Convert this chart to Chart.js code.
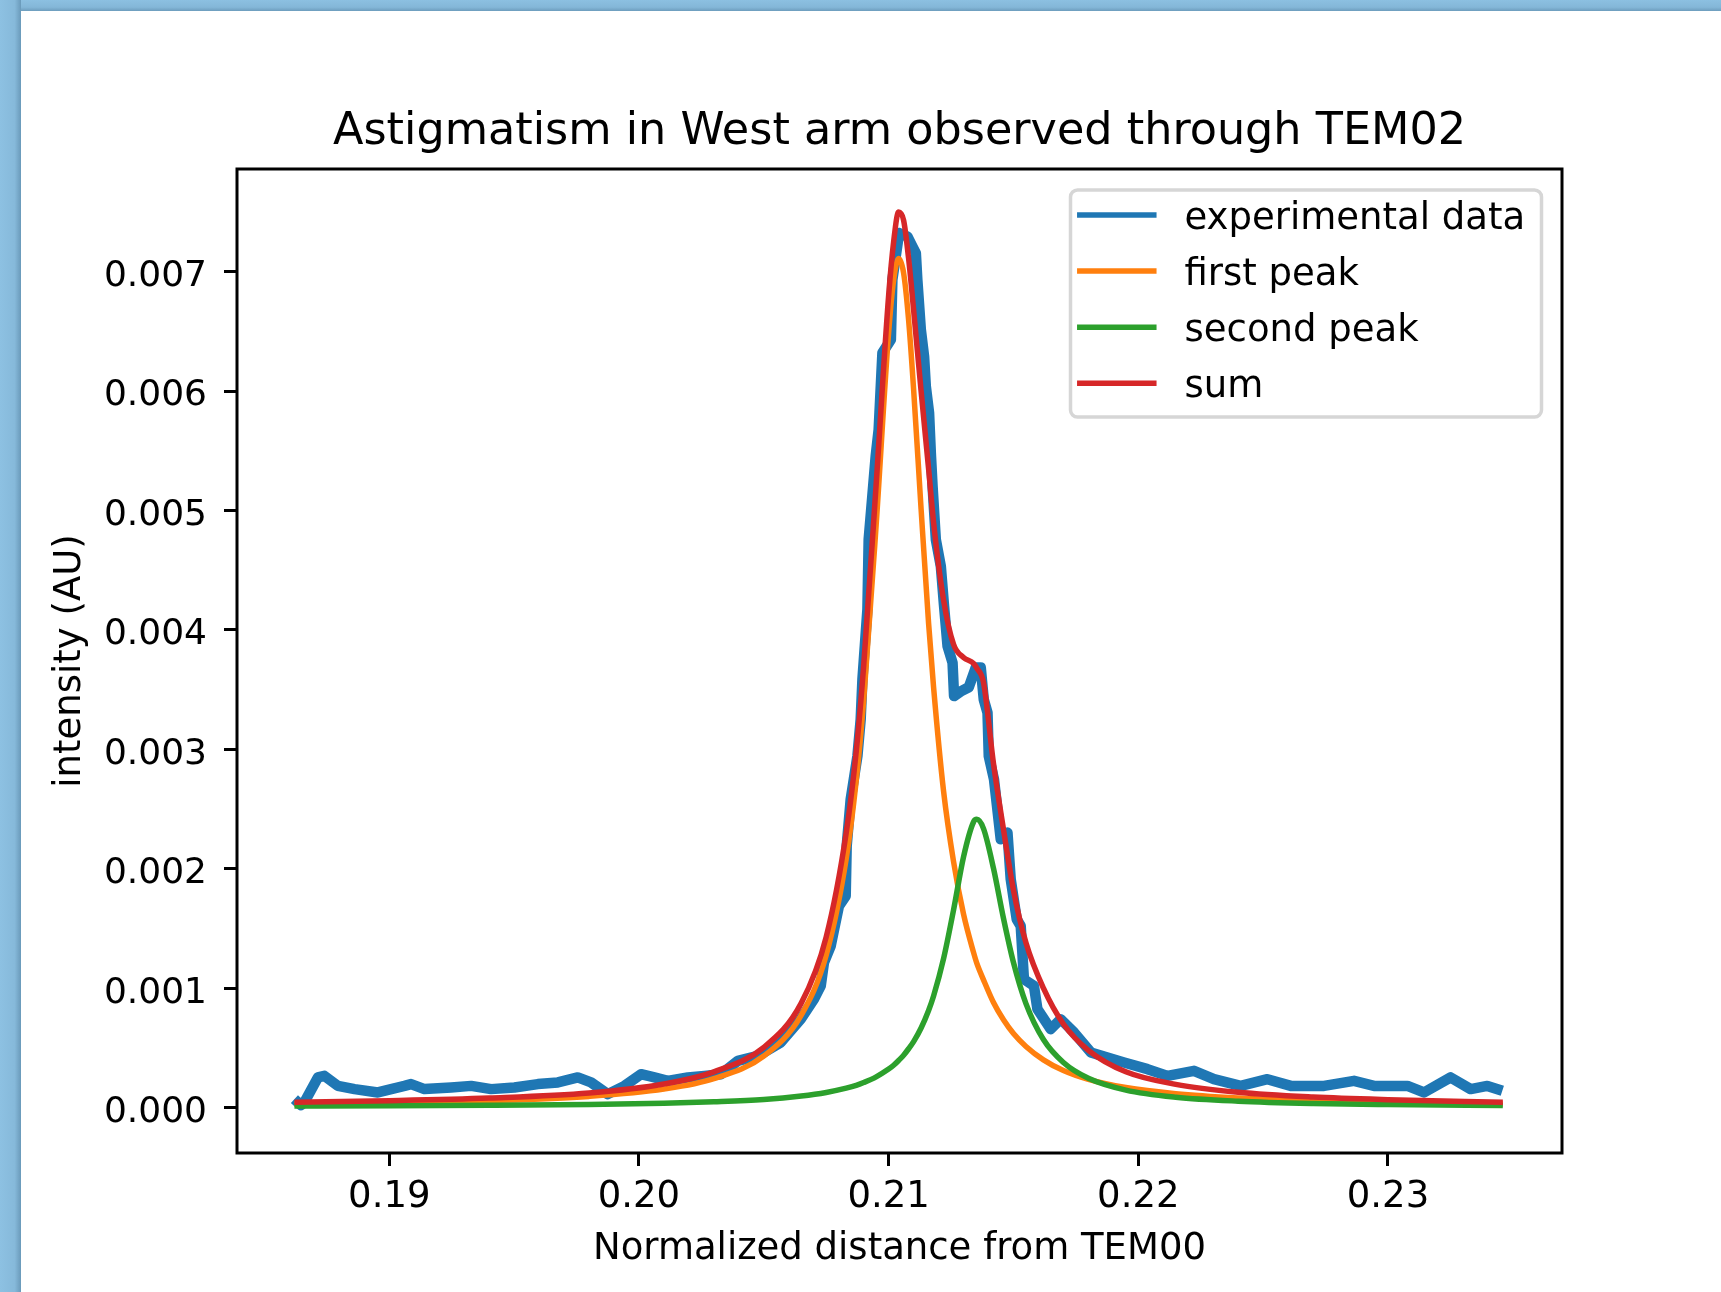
<!DOCTYPE html>
<html>
<head>
<meta charset="utf-8">
<script src="https://cdn.jsdelivr.net/npm/chart.js@4.4.1/dist/chart.umd.min.js"></script>
<style>
  html, body { margin: 0; padding: 0; }
  body { width: 1721px; height: 1292px; position: relative; overflow: hidden; background: #fff; }
  #topbar { position: absolute; left: 0; top: 0; width: 1721px; height: 11px;
    background: linear-gradient(to bottom, #8cc0e1 0%, #84b7d8 65%, #6d9dbd 100%); }
  #leftbar { position: absolute; left: 0; top: 0; width: 21px; height: 1292px;
    background: linear-gradient(to right, #8dc1e2 0%, #86b9da 70%, #6a9aba 100%); }
  #chart { position: absolute; left: 21px; top: 11px; }
</style>
</head>
<body>
<div id="topbar"></div>
<div id="leftbar"></div>
<div id="chart"><canvas width="1700" height="1281"></canvas></div>
<script>
const chart = document.querySelector("#chart canvas");

// experimental trace
const expX = [
  0.18620, 0.18646, 0.18660, 0.18714, 0.18740, 0.18794, 0.18861, 0.18954, 0.19061, 0.19087,
  0.19141, 0.19248, 0.19328, 0.19408, 0.19501, 0.19595, 0.19675, 0.19755, 0.19808, 0.19875,
  0.19942, 0.20008, 0.20062, 0.20115, 0.20196, 0.20262, 0.20329, 0.20396, 0.20476, 0.20568,
  0.20648, 0.20701, 0.20728, 0.20741, 0.20768, 0.20801, 0.20828, 0.20832, 0.20848, 0.20875,
  0.20888, 0.20895, 0.20915, 0.20920, 0.20948, 0.20960, 0.20975, 0.21009, 0.21015, 0.21042,
  0.21075, 0.21095, 0.21109, 0.21115, 0.21129, 0.21142, 0.21149, 0.21162, 0.21169, 0.21176,
  0.21189, 0.21209, 0.21222, 0.21236, 0.21256, 0.21262, 0.21289, 0.21321, 0.21349, 0.21369,
  0.21381, 0.21396, 0.21401, 0.21422, 0.21449, 0.21476, 0.21489, 0.21513, 0.21529, 0.21542,
  0.21582, 0.21596, 0.21649, 0.21689, 0.21743, 0.21810, 0.21943, 0.22037, 0.22117, 0.22223,
  0.22303, 0.22410, 0.22517, 0.22611, 0.22744, 0.22864, 0.22944, 0.23078, 0.23144, 0.23251,
  0.23331, 0.23398, 0.23458,
];
const expY = [
  0.000071, 0.000021, 0.000044, 0.000253, 0.000266, 0.000182, 0.000155, 0.000127, 0.000182, 0.000197,
  0.000155, 0.000169, 0.000182, 0.000155, 0.000169, 0.000197, 0.000211, 0.000253, 0.000211, 0.000113,
  0.000182, 0.000280, 0.000253, 0.000224, 0.000253, 0.000266, 0.000280, 0.000392, 0.000433, 0.000546,
  0.000741, 0.000908, 0.001019, 0.001215, 0.001354, 0.001689, 0.001772, 0.002191, 0.002582, 0.002944,
  0.003251, 0.003586, 0.004172, 0.004757, 0.005454, 0.005678, 0.006320, 0.006431, 0.006933, 0.007324,
  0.007295, 0.007212, 0.007156, 0.006933, 0.006514, 0.006291, 0.006040, 0.005817, 0.005483, 0.005203,
  0.004757, 0.004534, 0.004199, 0.003864, 0.003725, 0.003446, 0.003485, 0.003520, 0.003686, 0.003686,
  0.003418, 0.003307, 0.002944, 0.002749, 0.002247, 0.002303, 0.001912, 0.001577, 0.001521, 0.001075,
  0.001019, 0.000824, 0.000657, 0.000741, 0.000629, 0.000462, 0.000378, 0.000322, 0.000266, 0.000308,
  0.000238, 0.000182, 0.000238, 0.000182, 0.000182, 0.000224, 0.000182, 0.000182, 0.000127, 0.000253,
  0.000155, 0.000182, 0.000141,
];

// fitted curves, all read on one x grid
const fitX = [
  0.1862, 0.1900, 0.1940, 0.1980, 0.2010, 0.2030, 0.2050, 0.2065, 0.2075, 0.2083,
  0.2087, 0.2090, 0.2095, 0.2100, 0.2102, 0.2104, 0.2106, 0.2108, 0.2110, 0.2113,
  0.2116, 0.2118, 0.2122, 0.2126, 0.2130, 0.2134, 0.21353, 0.2138, 0.2142, 0.2146,
  0.2150, 0.2155, 0.2162, 0.2170, 0.2180, 0.2195, 0.2215, 0.2240, 0.2270, 0.2300,
  0.2346,
];
const firstPeak = [
  0.000030, 0.000040, 0.000058, 0.000094, 0.000155, 0.000242, 0.000432, 0.000775, 0.001278, 0.002083,
  0.002735, 0.003410, 0.004880, 0.006490, 0.006929, 0.007110, 0.006988, 0.006595, 0.006016, 0.005012,
  0.004056, 0.003520, 0.002650, 0.002060, 0.001620, 0.001300, 0.001210, 0.001070, 0.000880, 0.000735,
  0.000620, 0.000512, 0.000400, 0.000310, 0.000236, 0.000168, 0.000117, 0.000081, 0.000056, 0.000043,
  0.000031,
];
const secondPeak = [
  0.000014, 0.000016, 0.000020, 0.000027, 0.000037, 0.000049, 0.000068, 0.000097, 0.000127, 0.000163,
  0.000186, 0.000210, 0.000258, 0.000323, 0.000355, 0.000395, 0.000439, 0.000493, 0.000553, 0.000667,
  0.000814, 0.000935, 0.001247, 0.001655, 0.002100, 0.002392, 0.002414, 0.002336, 0.002003, 0.001585,
  0.001215, 0.000871, 0.000570, 0.000378, 0.000246, 0.000147, 0.000087, 0.000054, 0.000035, 0.000026,
  0.000018,
];
const sumFit = [
  0.000045, 0.000058, 0.000080, 0.000122, 0.000198, 0.000300, 0.000505, 0.000875, 0.001430, 0.002300,
  0.002980, 0.003700, 0.005220, 0.006800, 0.007250, 0.007500, 0.007430, 0.007110, 0.006680, 0.006000,
  0.005350, 0.004900, 0.004250, 0.003880, 0.003770, 0.003720, 0.003680, 0.003560, 0.002880, 0.002330,
  0.001820, 0.001380, 0.001000, 0.000700, 0.000480, 0.000300, 0.000195, 0.000128, 0.000088, 0.000066,
  0.000044,
];

const xTicks = [0.19, 0.20, 0.21, 0.22, 0.23];
const xTickLabels = ["0.19", "0.20", "0.21", "0.22", "0.23"];
const yTicks = [0, 0.001, 0.002, 0.003, 0.004, 0.005, 0.006, 0.007];
const yTickLabels = ["0.000", "0.001", "0.002", "0.003", "0.004", "0.005", "0.006", "0.007"];

const FONT = "'DejaVu Sans', sans-serif";

const toPoints = (xs, ys) => xs.map((x, i) => ({ x: x, y: ys[i] }));

// box around the plot, all four sides like matplotlib spines
const framePlugin = {
  id: "frame",
  afterDatasetsDraw(c) {
    const { ctx, chartArea: a } = c;
    ctx.save();
    ctx.strokeStyle = "#000";
    ctx.lineWidth = 3;
    ctx.strokeRect(a.left, a.top, a.right - a.left, a.bottom - a.top);
    ctx.restore();
  },
};

// legend drawn inside the plot, upper right, with a rounded grey frame
const boxLegend = {
  id: "boxLegend",
  afterDraw(c) {
    const { ctx, chartArea: a } = c;
    const w = 471, h = 227, r = 7;
    const x0 = a.right - 20.5 - w;
    const y0 = a.top + 21;
    ctx.save();
    ctx.beginPath();
    ctx.moveTo(x0 + r, y0);
    ctx.arcTo(x0 + w, y0, x0 + w, y0 + h, r);
    ctx.arcTo(x0 + w, y0 + h, x0, y0 + h, r);
    ctx.arcTo(x0, y0 + h, x0, y0, r);
    ctx.arcTo(x0, y0, x0 + w, y0, r);
    ctx.closePath();
    ctx.fillStyle = "rgba(255,255,255,0.8)";
    ctx.fill();
    ctx.strokeStyle = "#d6d6d6";
    ctx.lineWidth = 3.5;
    ctx.stroke();

    ctx.font = "37px " + FONT;
    ctx.textBaseline = "alphabetic";
    ctx.textAlign = "left";
    c.data.datasets.forEach((ds, i) => {
      const ly = a.top + 46 + i * 56.1;
      ctx.beginPath();
      ctx.moveTo(x0 + 9.3, ly);
      ctx.lineTo(x0 + 83.3, ly);
      ctx.strokeStyle = ds.borderColor;
      ctx.lineWidth = 5.5;
      ctx.lineCap = "square";
      ctx.stroke();
      ctx.fillStyle = "#000";
      ctx.fillText(ds.label, x0 + 114, ly + 14);
    });
    ctx.restore();
  },
};

function showChart() {
  new Chart(chart, {
    type: "line",
    data: {
      datasets: [
        {
          label: "experimental data",
          data: toPoints(expX, expY),
          borderColor: "#1f77b4",
          borderWidth: 10.5,
          tension: 0,
          order: 4, // drawn first, under the fits
        },
        {
          label: "first peak",
          data: toPoints(fitX, firstPeak),
          borderColor: "#ff7f0e",
          borderWidth: 5.5,
          cubicInterpolationMode: "monotone",
          order: 3,
        },
        {
          label: "second peak",
          data: toPoints(fitX, secondPeak),
          borderColor: "#2ca02c",
          borderWidth: 5.5,
          cubicInterpolationMode: "monotone",
          order: 2,
        },
        {
          label: "sum",
          data: toPoints(fitX, sumFit),
          borderColor: "#d62728",
          borderWidth: 5.5,
          cubicInterpolationMode: "monotone",
          order: 1,
        },
      ],
    },
    options: {
      responsive: false,
      animation: false,
      events: [],
      elements: {
        point: { radius: 0 },
        line: { borderJoinStyle: "round", fill: false },
      },
      layout: { padding: { left: 0, right: 159, top: 0, bottom: 20 } },
      plugins: {
        legend: { display: false },
        tooltip: { enabled: false },
        title: {
          display: true,
          text: "Astigmatism in West arm observed through TEM02",
          fullSize: false,
          color: "#000",
          font: { family: FONT, size: 44.5, weight: "normal" },
          padding: { top: 94.7, bottom: 9.9 },
        },
      },
      scales: {
        x: {
          type: "linear",
          min: 0.1839,
          max: 0.23697,
          afterBuildTicks: (s) => { s.ticks = xTicks.map((v) => ({ value: v })); },
          afterFit: (s) => { s.height = 119; },
          border: { display: false },
          grid: { drawOnChartArea: false, drawTicks: true, tickLength: 13, tickWidth: 3, tickColor: "#000" },
          ticks: {
            callback: (v, i) => xTickLabels[i],
            color: "#000",
            font: { family: FONT, size: 37 },
            padding: 9,
            maxRotation: 0,
            autoSkip: false,
          },
          title: {
            display: true,
            text: "Normalized distance from TEM00",
            color: "#000",
            font: { family: FONT, size: 37 },
            padding: { top: 0, bottom: 0 },
          },
        },
        y: {
          type: "linear",
          min: -0.00038,
          max: 0.00786,
          afterBuildTicks: (s) => { s.ticks = yTicks.map((v) => ({ value: v })); },
          afterFit: (s) => { s.width = 216; },
          border: { display: false },
          grid: { drawOnChartArea: false, drawTicks: true, tickLength: 13, tickWidth: 3, tickColor: "#000" },
          ticks: {
            callback: (v, i) => yTickLabels[i],
            color: "#000",
            font: { family: FONT, size: 36 },
            padding: 17,
            labelOffset: 5,
            autoSkip: false,
          },
          title: {
            display: true,
            text: "intensity (AU)",
            color: "#000",
            font: { family: FONT, size: 37 },
            padding: { top: 27, bottom: 0 },
          },
        },
      },
    },
    plugins: [framePlugin, boxLegend],
  });
}

showChart();
</script>
</body>
</html>
